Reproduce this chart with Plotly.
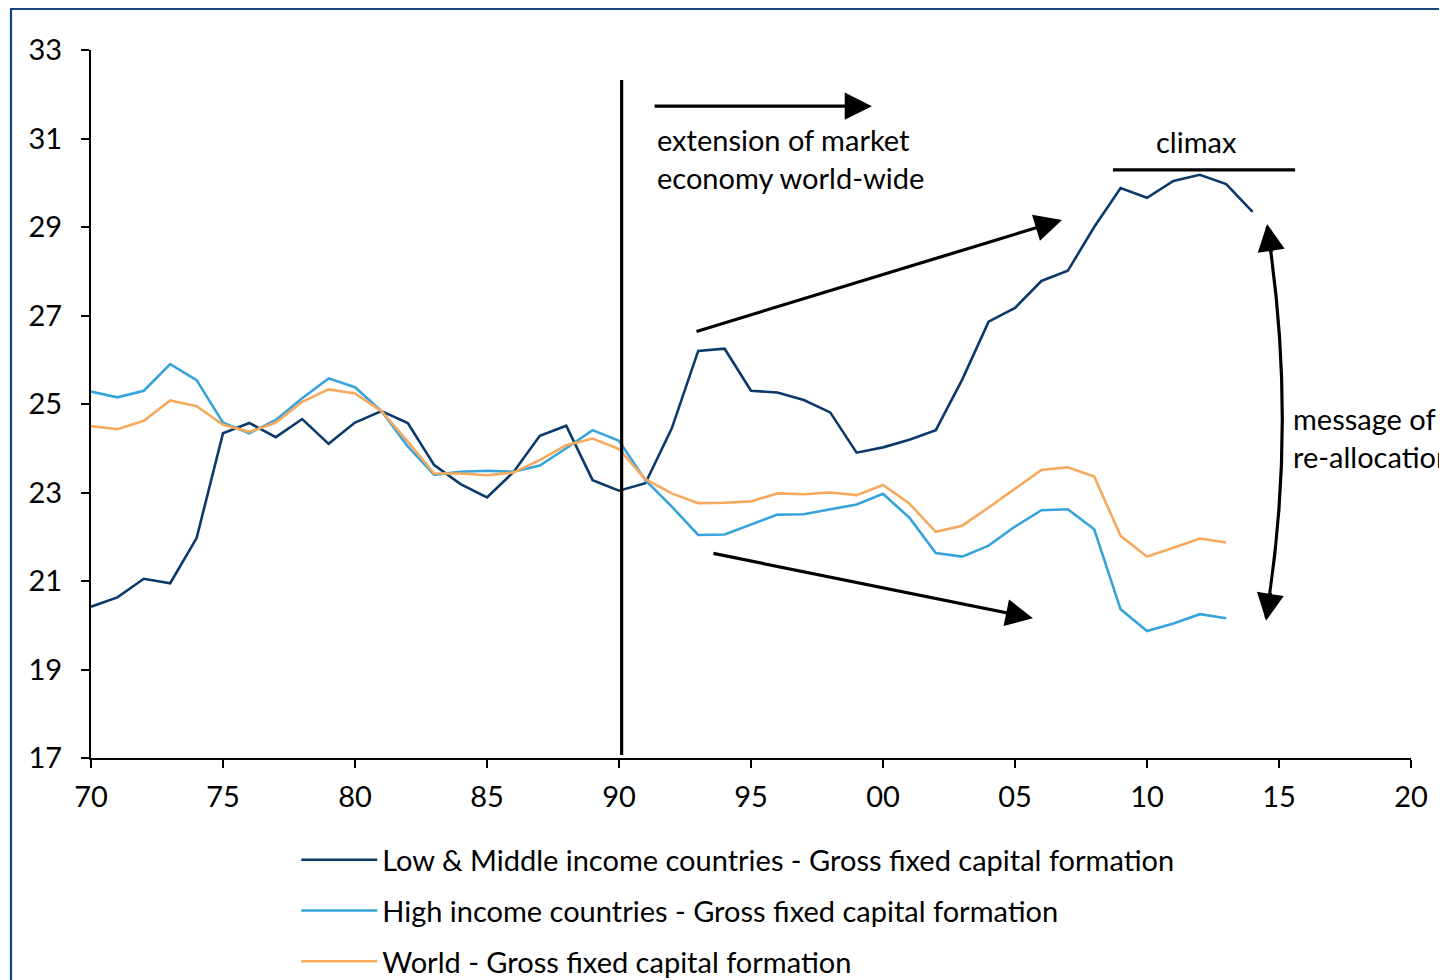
import plotly.graph_objects as go

years = list(range(1970, 2015))

low_middle = [20.42, 20.63, 21.05, 20.95, 21.97, 24.34, 24.57, 24.25, 24.66, 24.10,
              24.58, 24.84, 24.57, 23.62, 23.19, 22.89, 23.46, 24.28, 24.51, 23.28,
              23.04, 23.21, 24.45, 26.20, 26.25, 25.30, 25.26, 25.09, 24.81, 23.90,
              24.02, 24.19, 24.41, 25.55, 26.86, 27.17, 27.78, 28.01, 29.00, 29.88,
              29.66, 30.04, 30.18, 29.97, 29.34]

high_income = [25.28, 25.15, 25.30, 25.90, 25.54, 24.58, 24.34, 24.64, 25.13, 25.58,
               25.38, 24.84, 24.04, 23.40, 23.47, 23.49, 23.47, 23.61, 24.00, 24.41,
               24.17, 23.28, 22.68, 22.04, 22.05, 22.27, 22.50, 22.51, 22.62, 22.73,
               22.97, 22.43, 21.63, 21.55, 21.80, 22.23, 22.60, 22.62, 22.17, 20.36,
               19.87, 20.04, 20.25, 20.16]

world = [24.50, 24.43, 24.62, 25.08, 24.95, 24.53, 24.37, 24.58, 25.05, 25.33,
         25.24, 24.84, 24.15, 23.43, 23.43, 23.39, 23.45, 23.73, 24.07, 24.22,
         23.98, 23.30, 22.98, 22.76, 22.77, 22.80, 22.98, 22.96, 23.00, 22.94,
         23.17, 22.75, 22.11, 22.25, 22.66, 23.09, 23.51, 23.57, 23.36, 22.02,
         21.55, 21.75, 21.96, 21.87]

series_names = ["Low & Middle income countries - Gross fixed capital formation",
                "High income countries - Gross fixed capital formation",
                "World - Gross fixed capital formation"]
series_colors = ["#0B3A6A", "#36A3DA", "#F6A95C"]

x_tickvals = list(range(1970, 2021, 5))
x_ticktext = ["70", "75", "80", "85", "90", "95", "00", "05", "10", "15", "20"]
y_tickvals = list(range(17, 34, 2))

FONT = "Lato, 'Open Sans', sans-serif"
FS = 29

fig = go.Figure()
for i, (vals, name, col) in enumerate(zip([low_middle, high_income, world], series_names, series_colors)):
    fig.add_trace(go.Scatter(
        x=years[:len(vals)], y=vals, mode="lines", name=name,
        line=dict(color=col, width=2.6), legendgroup=f"g{i}",
        hoverinfo="x+y+name"))

shapes = [
    # outer frame
    dict(type="rect", xref="paper", yref="paper", x0=-0.0606, x1=1.2, y0=-0.6, y1=1.0579,
         line=dict(color="#17457A", width=2.2), layer="below"),
    # 1990 vertical line
    dict(type="line", xref="x", yref="y", x0=1990.1, x1=1990.1, y0=17.07, y1=32.32,
         line=dict(color="black", width=3.2)),
    # climax bar
    dict(type="line", xref="x", yref="y", x0=2008.71, x1=2015.61, y0=30.29, y1=30.29,
         line=dict(color="black", width=3.2)),
    # curved double arrow shaft
    dict(type="path", xref="x", yref="y",
         path="M 2014.55,29.0 Q 2015.72,24.59 2014.51,20.17",
         line=dict(color="black", width=3.2)),
]

annotations = [
    dict(text="% of GDP", x=1971.14, y=33.2, xref="x", yref="y", xanchor="left", yanchor="middle",
         showarrow=False, font=dict(size=FS, color="black", family=FONT)),
    dict(text="extension of market<br>economy world-wide", x=1991.36, y=30.55, xref="x", yref="y",
         xanchor="left", yanchor="middle", align="left", showarrow=False,
         font=dict(size=FS, color="black", family=FONT)),
    dict(text="climax", x=2011.86, y=30.94, xref="x", yref="y", xanchor="center", yanchor="middle",
         showarrow=False, font=dict(size=FS, color="black", family=FONT)),
    dict(text="message of<br>re-allocation", x=2015.45, y=24.25, xref="x", yref="y",
         xanchor="left", yanchor="middle", align="left", showarrow=False,
         font=dict(size=FS, color="black", family=FONT)),
]

arrows = [
    ((1991.29, 31.73), (1999.58, 31.73)),
    ((1992.88, 26.63), (2006.78, 29.16)),
    ((1993.52, 21.63), (2005.68, 20.16)),
    ((2014.72, 28.40), (2014.55, 29.07)),
    ((2014.69, 20.77), (2014.51, 20.10)),
]
for (tx, ty), (hx, hy) in arrows:
    annotations.append(dict(
        text="", x=hx, y=hy, ax=tx, ay=ty, xref="x", yref="y", axref="x", ayref="y",
        showarrow=True, arrowhead=2, arrowsize=1.7, arrowwidth=3.2, arrowcolor="black",
        standoff=0, startstandoff=0))

fig.update_layout(
    width=1447, height=980,
    margin=dict(l=83, r=44, t=42, b=230, pad=0, autoexpand=False),
    paper_bgcolor="white", plot_bgcolor="white",
    font=dict(family=FONT, size=FS, color="black"),
    shapes=shapes, annotations=annotations,
    showlegend=True,
    legend=dict(x=0.1555, y=-0.108, xanchor="left", yanchor="top",
                orientation="v", traceorder="grouped", tracegroupgap=10,
                itemwidth=76, font=dict(size=FS, family=FONT, color="black"),
                bgcolor="rgba(0,0,0,0)"),
    xaxis=dict(range=[1970, 2020], tickvals=x_tickvals, ticktext=x_ticktext,
               showgrid=False, zeroline=False, showline=True, linecolor="black", linewidth=2,
               ticks="outside", ticklen=8, tickwidth=2, tickcolor="black",
               tickfont=dict(size=FS, family=FONT, color="black"), ticklabelstandoff=4),
    yaxis=dict(range=[17, 33], tickvals=y_tickvals,
               showgrid=False, zeroline=False, showline=True, linecolor="black", linewidth=2,
               ticks="outside", ticklen=8, tickwidth=2, tickcolor="black",
               tickfont=dict(size=FS, family=FONT, color="black"), ticklabelstandoff=13),
)

fig.write_html("out.html")
